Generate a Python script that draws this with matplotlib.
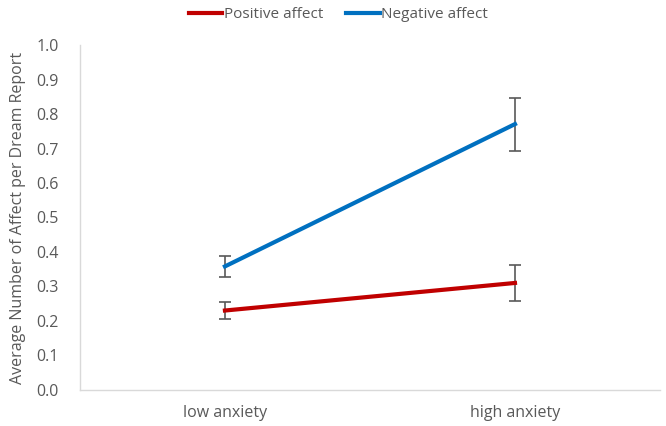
import matplotlib
matplotlib.use("Agg")
import matplotlib.pyplot as plt

# data
categories = ["low anxiety", "high anxiety"]
positive = [0.23, 0.31]
positive_err = [0.026, 0.051]
negative = [0.358, 0.771]
negative_err = [0.031, 0.077]

plt.rcParams["font.family"] = ["Open Sans", "DejaVu Sans"]
text_color = "#595959"
axis_color = "#d9d9d9"

fig = plt.figure(figsize=(6.66, 4.26), dpi=100)
ax = fig.add_axes([0.12, 0.085, 0.871, 0.809])

x = list(range(len(categories)))
ax.errorbar(x, positive, yerr=positive_err, color="#C00000", lw=3,
            ecolor="#595959", elinewidth=1.2, capsize=4, capthick=1.2,
            label="Positive affect", zorder=3)
ax.errorbar(x, negative, yerr=negative_err, color="#0070C0", lw=3,
            ecolor="#595959", elinewidth=1.2, capsize=4, capthick=1.2,
            label="Negative affect", zorder=3)

ax.set_xlim(-0.5, 1.5)
ax.set_ylim(0, 1.0)
ax.set_yticks([i / 10 for i in range(11)])
ax.set_yticklabels([f"{i / 10:.1f}" for i in range(11)])
ax.set_xticks(x)
ax.set_xticklabels(categories)
ax.tick_params(length=0, colors=text_color, labelsize=11.5)
ax.tick_params(axis="x", pad=11)
ax.tick_params(axis="y", pad=15)

for side in ["top", "right"]:
    ax.spines[side].set_visible(False)
for side in ["left", "bottom"]:
    ax.spines[side].set_color(axis_color)
    ax.spines[side].set_linewidth(1)

ax.set_ylabel("Average Number of Affect per Dream Report", color=text_color,
              fontsize=11.5, labelpad=8)

handles, labels = ax.get_legend_handles_labels()
handles = [h[0] for h in handles]
leg = fig.legend(handles, labels, loc="upper center", bbox_to_anchor=(0.508, 1.015),
                 ncol=2, frameon=False, fontsize=11, handlelength=2.2,
                 handletextpad=0.1, columnspacing=1.5)
for t in leg.get_texts():
    t.set_color(text_color)

fig.savefig("out.png", dpi=100)
